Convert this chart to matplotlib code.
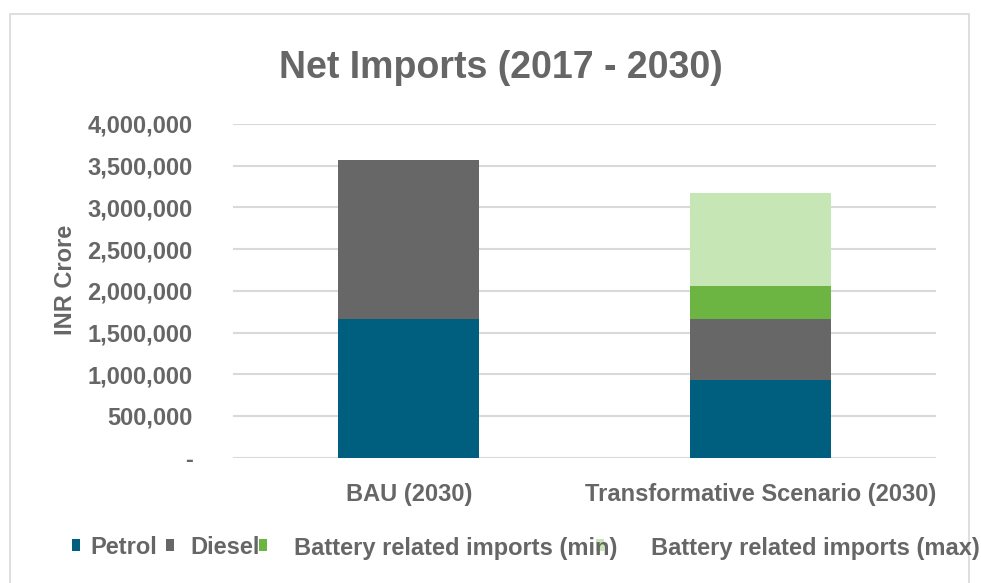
import matplotlib
matplotlib.use("Agg")
import matplotlib.pyplot as plt
from matplotlib.patches import Rectangle
from matplotlib.ticker import FuncFormatter

# values (INR Crore)
scenarios = ["BAU (2030)", "Transformative Scenario (2030)"]
series_names = ["Petrol", "Diesel", "Battery related imports (min)", "Battery related imports (max)"]
petrol = [1665000, 937000]
diesel = [1900000, 722000]
battery_min = [0, 398000]
battery_max = [0, 1110000]
y_ticks = [0, 500000, 1000000, 1500000, 2000000, 2500000, 3000000, 3500000, 4000000]

colors = ["#005E7E", "#666766", "#6CB543", "#C7E6B5"]
TEXT = "#666666"
GRID = "#D9D9D9"

plt.rcParams["font.family"] = ["Liberation Sans", "DejaVu Sans"]
plt.rcParams["font.weight"] = "bold"

fig = plt.figure(figsize=(9.81, 5.83), dpi=100)
fig.patch.set_facecolor("white")

# light frame round the chart (runs off the bottom, as in the reference)
fig.patches.append(Rectangle((10 / 981, -0.05), 959 / 981, 1 - 14 / 583 + 0.05,
                             transform=fig.transFigure, fill=False,
                             edgecolor=GRID, linewidth=1.2, zorder=0))

ax = fig.add_axes([233 / 981, 1 - 457.7 / 583, 703 / 981, (457.7 - 124) / 583])

x = range(len(scenarios))
bottom = [0, 0]
for vals, c in zip([petrol, diesel, battery_min, battery_max], colors):
    ax.bar(x, vals, width=0.4, bottom=bottom, color=c, edgecolor="none", zorder=3)
    bottom = [b + v for b, v in zip(bottom, vals)]

ax.set_xlim(-0.5, 1.5)
ax.set_ylim(0, 4000000)
ax.set_yticks(y_ticks)
ax.yaxis.set_major_formatter(FuncFormatter(lambda v, p: "-" if v == 0 else f"{int(v):,}"))
ax.set_xticks(list(x))
ax.set_xticklabels(scenarios)

ax.grid(axis="y", color=GRID, linewidth=1.5, zorder=0)
for s in ax.spines.values():
    s.set_visible(False)
ax.tick_params(axis="y", length=0, pad=29, labelsize=17, labelcolor=TEXT)
ax.tick_params(axis="x", length=0, pad=18, labelsize=17, labelcolor=TEXT)

fig.text(66 / 981, 1 - 280 / 583, "INR Crore", rotation=90, ha="center", va="center",
         fontsize=17, color=TEXT, fontweight="bold")

fig.text(501 / 981, 1 - 68 / 583, "Net Imports (2017 - 2030)", ha="center", va="center",
         fontsize=27, color=TEXT, fontweight="bold")

# legend laid out by hand, the way the reference has it
box_x = [72, 166, 259, 596]
text_x = [90, 190, 294, 651]
ly = 1 - 548 / 583
for name, c, bx, tx in zip(series_names, colors, box_x, text_x):
    fig.patches.append(Rectangle((bx / 981, 1 - 551 / 583), 8 / 981, 12 / 583,
                                 transform=fig.transFigure, facecolor=c,
                                 edgecolor="none", zorder=2))
    fig.text(tx / 981, ly, name, ha="left", va="center", fontsize=17,
             color=TEXT, fontweight="bold")

fig.savefig("out.png", dpi=100, facecolor="white")
